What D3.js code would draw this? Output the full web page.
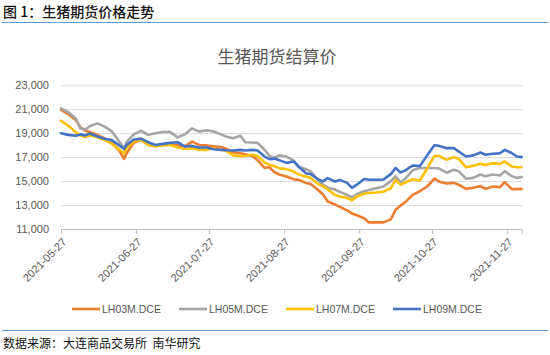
<!DOCTYPE html>
<html><head><meta charset="utf-8">
<script src="https://cdn.jsdelivr.net/npm/d3@7"></script>
<style>
body{margin:0;background:#fff;}
svg{display:block;}
</style></head>
<body><svg id="c" width="550" height="355"></svg>
<script>
const dates = ["2021-05-27","2021-05-30","2021-06-02","2021-06-04","2021-06-06","2021-06-08","2021-06-11","2021-06-14","2021-06-17","2021-06-20",
"2021-06-22","2021-06-23","2021-06-26","2021-06-29","2021-07-02","2021-07-05","2021-07-08","2021-07-11","2021-07-14","2021-07-17",
"2021-07-20","2021-07-23","2021-07-26","2021-07-29","2021-08-01","2021-08-03","2021-08-06","2021-08-09","2021-08-11","2021-08-14",
"2021-08-16","2021-08-19","2021-08-21","2021-08-23","2021-08-25","2021-08-28","2021-08-31","2021-09-02","2021-09-05","2021-09-07",
"2021-09-10","2021-09-12","2021-09-14","2021-09-17","2021-09-19","2021-09-22","2021-09-24","2021-09-26","2021-09-29","2021-10-01",
"2021-10-04","2021-10-07","2021-10-10","2021-10-12","2021-10-14","2021-10-16","2021-10-19","2021-10-22","2021-10-25","2021-10-28",
"2021-10-30","2021-11-02","2021-11-05","2021-11-07","2021-11-10","2021-11-13","2021-11-16","2021-11-18","2021-11-21","2021-11-24",
"2021-11-26","2021-11-29","2021-12-01","2021-12-03"];

const lh03 = [20950,20600,20100,19500,19200,19090,18850,18560,18200,17550,
16850,17300,18200,18440,18100,17940,18050,18100,18000,17900,
18300,18020,17980,17900,17850,17700,17400,17330,17250,17100,
16750,16100,16150,15750,15550,15380,15150,15100,14850,14750,
14250,13900,13300,13050,12850,12550,12300,12150,11900,11550,
11550,11550,11800,12600,12950,13250,13850,14150,14550,15200,
14950,14800,14850,14700,14350,14450,14580,14350,14550,14500,
14900,14330,14330,14350];

const lh05 = [21080,20750,20250,19400,19300,19600,19820,19550,19150,18300,
17750,18250,18900,19200,18870,19000,19100,19120,18650,18900,
19400,19130,19250,19140,18900,18720,18580,18780,18250,18220,
18200,17610,17100,16950,17150,17050,16700,16150,16000,15800,
15100,14700,14450,14300,14100,13850,13650,13900,14150,14250,
14400,14550,15000,15400,14900,15200,15900,16100,16100,16100,
16050,15700,15950,15830,15200,15270,15550,15400,15550,15470,
15830,15400,15270,15350];

const lh07 = [20030,19620,19100,18800,18690,18830,18660,18420,18120,17640,
17330,17750,18320,18430,18000,17890,17970,18025,17800,17680,
17750,17620,17610,17750,17600,17550,17150,17100,17100,17200,
17100,16550,16350,16250,16080,16000,15800,15550,15380,15250,
14750,14580,14300,13850,13720,13600,13400,13700,13950,14000,
14050,14120,14400,15100,14700,14880,15150,15050,16050,17100,
17100,16780,17000,16850,16160,16280,16440,16350,16500,16440,
16640,16220,16160,16160];

const lh09 = [19000,18860,18780,18900,18820,18970,18720,18540,18420,17980,
17690,18000,18480,18550,18250,18020,18110,18190,18250,17890,
17940,17800,17800,17660,17610,17580,17550,17610,17550,17610,
17550,17050,16830,16880,16750,16520,16640,16220,15660,15580,
15150,14980,15250,14970,15100,14850,14430,14700,15170,15110,
15110,15130,15580,16100,15720,15900,16300,16250,17150,18000,
17940,17750,17750,17470,17050,17150,17390,17200,17280,17330,
17610,17330,17050,17000];

const seriesNames = ["LH03M.DCE","LH05M.DCE","LH07M.DCE","LH09M.DCE"];
const seriesColors = ["#ED7D31","#A5A5A5","#FFC000","#4472C4"];
const yTicks = [11000,13000,15000,17000,19000,21000,23000];
const xTickLabels = ["2021-05-27","2021-06-27","2021-07-27","2021-08-27","2021-09-27","2021-10-27","2021-11-27"];

const parse = d3.timeParse("%Y-%m-%d");
const fmtDate = d3.timeFormat("%Y-%m-%d");
const allSeries = [lh03, lh05, lh07, lh09];

const svg = d3.select("#c");
svg.append("rect").attr("width",550).attr("height",355).attr("fill","#fff");

const cjk = "'Noto Sans CJK SC', sans-serif";
const lat = "'Liberation Sans', Arial, sans-serif";

// header
svg.append("text").attr("x",3).attr("y",17).attr("font-family",cjk).attr("font-size",14)
  .attr("font-weight",500).attr("fill","#111").text("图 1：生猪期货价格走势");
svg.append("line").attr("x1",2).attr("x2",548).attr("y1",22.5).attr("y2",22.5)
  .attr("stroke","#5B9BD5").attr("stroke-width",1.2);

// footer
svg.append("line").attr("x1",2).attr("x2",548).attr("y1",330.5).attr("y2",330.5)
  .attr("stroke","#5B9BD5").attr("stroke-width",1.2);
svg.append("text").attr("x",3).attr("y",348).attr("font-family",cjk).attr("font-size",12)
  .attr("fill","#111").text("数据来源：大连商品交易所\u00a0\u00a0南华研究");

// chart title
svg.append("text").attr("x",277).attr("y",63).attr("text-anchor","middle").attr("font-family",cjk)
  .attr("font-size",17).attr("fill","#595959").text("生猪期货结算价");

const x = d3.scaleTime().domain([parse("2021-05-27"), parse("2021-12-03")]).range([61, 521.7]);
const y = d3.scaleLinear().domain([11000, 23000]).range([229, 85.3]);

// grid
const gy = svg.append("g").attr("transform","translate(61,0)")
  .call(d3.axisLeft(y).tickValues(yTicks).tickSize(-460.7).tickFormat(""));
gy.select(".domain").remove();
gy.selectAll("line").attr("stroke","#D9D9D9").attr("stroke-width",1);

// y labels
const yl = svg.append("g").attr("transform","translate(49,0)")
  .call(d3.axisLeft(y).tickValues(yTicks).tickSize(0).tickFormat(d3.format(",")));
yl.select(".domain").remove();
yl.selectAll("text").attr("font-family",lat).attr("font-size",11).attr("fill","#595959").attr("x",0);

// x axis
const xa = svg.append("g").attr("transform","translate(0,229)")
  .call(d3.axisBottom(x).tickValues(xTickLabels.map(parse)).tickSize(5).tickFormat(fmtDate));
xa.select(".domain").attr("stroke","#BFBFBF");
xa.selectAll("line").attr("stroke","#BFBFBF");
xa.selectAll("text").attr("font-family",lat).attr("font-size",11).attr("fill","#595959")
  .attr("y",0).attr("x",0).attr("dy","0.35em").attr("text-anchor","end")
  .attr("transform","translate(3,11) rotate(-45)");

// lines
const line = d3.line().x((d,i)=>x(parse(dates[i]))).y(d=>y(d));
allSeries.forEach((s,k)=>{
  svg.append("path").datum(s).attr("d",line).attr("fill","none")
    .attr("stroke",seriesColors[k]).attr("stroke-width",2.6)
    .attr("stroke-linejoin","round").attr("stroke-linecap","round");
});

// legend
const legX = [72, 179, 286, 393];
seriesNames.forEach((n,k)=>{
  const g = svg.append("g").attr("transform",`translate(${legX[k]},309)`);
  g.append("line").attr("x1",0).attr("x2",28).attr("y1",0).attr("y2",0)
    .attr("stroke",seriesColors[k]).attr("stroke-width",2.6);
  g.append("text").attr("x",30).attr("y",0).attr("dy","0.35em").attr("font-family",lat)
    .attr("font-size",10.5).attr("fill","#595959").text(n);
});
</script></body></html>
